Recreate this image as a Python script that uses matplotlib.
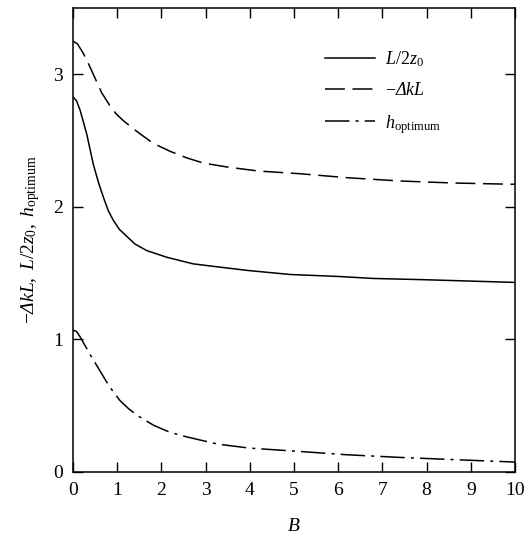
import matplotlib
matplotlib.use("Agg")
import matplotlib.pyplot as plt

plt.rcParams['font.family'] = ['Liberation Serif', 'DejaVu Serif']
plt.rcParams['mathtext.fontset'] = 'custom'
plt.rcParams['mathtext.rm'] = 'Liberation Serif'
plt.rcParams['mathtext.it'] = 'Liberation Serif:italic'
plt.rcParams['mathtext.bf'] = 'Liberation Serif:bold'
plt.rcParams['mathtext.sf'] = 'Liberation Serif:italic'

# Data
B_dk = [0, 0.1, 0.23, 0.35, 0.5, 0.65, 0.84, 0.98, 1.14, 1.44, 1.81, 2.19, 2.57, 2.95, 3.5, 4.2, 5.13, 6.2, 7.4, 8.6, 10]
neg_dkL = [3.25, 3.23, 3.16, 3.08, 2.97, 2.86, 2.76, 2.70, 2.65, 2.57, 2.48, 2.42, 2.37, 2.33, 2.30, 2.27, 2.25, 2.22, 2.195, 2.18, 2.17]

B_s = [0, 0.08, 0.16, 0.31, 0.46, 0.58, 0.69, 0.8, 0.91, 1.05, 1.21, 1.4, 1.67, 2.12, 2.72, 3.33, 3.96, 4.91, 6.0, 6.79, 8.0, 9.0, 10]
L_2z0 = [2.83, 2.80, 2.73, 2.55, 2.32, 2.18, 2.07, 1.97, 1.90, 1.83, 1.78, 1.72, 1.67, 1.62, 1.57, 1.545, 1.52, 1.49, 1.475, 1.46, 1.45, 1.44, 1.43]

B_h = [0, 0.08, 0.16, 0.38, 0.57, 0.76, 0.9, 1.06, 1.25, 1.44, 1.82, 2.19, 2.57, 3.28, 4.0, 5.13, 6.2, 7.4, 8.5, 10]
h_opt = [1.07, 1.06, 1.02, 0.89, 0.785, 0.68, 0.61, 0.54, 0.48, 0.43, 0.353, 0.30, 0.265, 0.21, 0.18, 0.155, 0.13, 0.11, 0.095, 0.075]

x_ticks = list(range(0, 11))
y_ticks = [0, 1, 2, 3]

fig = plt.figure(figsize=(5.30, 5.39), dpi=100)
ax = fig.add_axes([73/530, 1 - 472/539, 442/530, 464/539])

ax.plot(B_s, L_2z0, color='black', lw=1.1, linestyle='-', label=r'$L/2z_0$')
ax.plot(B_dk, neg_dkL, color='black', lw=1.1, linestyle=(0, (13, 5)), label=r'$-\mathsf{Δ}kL$')
ax.plot(B_h, h_opt, color='black', lw=1.1, linestyle=(0, (16, 4, 2, 4)), label=r'$h_{\mathrm{optimum}}$')

ax.set_xlim(0, 10)
ax.set_ylim(0, 3.5)
ax.set_xticks(x_ticks)
ax.set_yticks(y_ticks)
ax.tick_params(direction='in', length=7, width=1.0, top=True, right=True, labelsize=14, pad=7)
for sp in ax.spines.values():
    sp.set_linewidth(1.1)

ax.set_xlabel(r'$B$', fontsize=14, labelpad=14)
ax.set_ylabel(r'$-\mathsf{Δ}kL,\ L/2z_0,\ h_{\mathrm{optimum}}$', fontsize=14, labelpad=8)

leg = ax.legend(loc='upper left', bbox_to_anchor=(0.57, 0.912), frameon=False,
                fontsize=13, handlelength=2.8, handletextpad=0.55, labelspacing=0.75,
                borderpad=0, borderaxespad=0)

fig.savefig('out.png', dpi=100)
